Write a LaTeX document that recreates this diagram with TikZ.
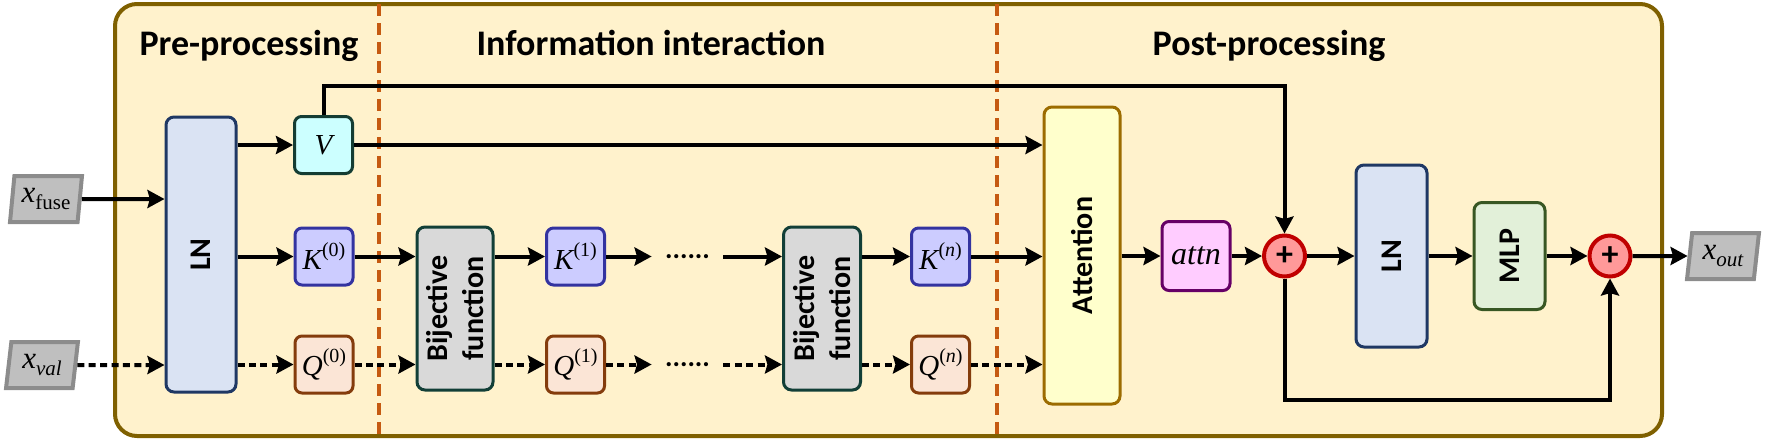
\documentclass[tikz,border=0pt]{standalone}
\usepackage{fontspec}
\setsansfont{Carlito}
\newfontfamily\tms{Liberation Serif}
\usetikzlibrary{arrows.meta,shapes.geometric}
\definecolor{outerfill}{HTML}{FFF2CC}
\definecolor{outerdraw}{HTML}{7F6000}
\definecolor{dashc}{HTML}{C55A11}
\definecolor{lnfill}{HTML}{DAE3F3}
\definecolor{lndraw}{HTML}{1F3864}
\definecolor{vfill}{HTML}{CCFFFF}
\definecolor{vdraw}{HTML}{143D33}
\definecolor{kfill}{HTML}{CCCCFF}
\definecolor{kdraw}{HTML}{3333A0}
\definecolor{qfill}{HTML}{FBE5D6}
\definecolor{qdraw}{HTML}{843C0C}
\definecolor{bfill}{HTML}{D9D9D9}
\definecolor{bdraw}{HTML}{123F37}
\definecolor{afill}{HTML}{FFFFCC}
\definecolor{adraw}{HTML}{9C6C00}
\definecolor{attnfill}{HTML}{FFCCFF}
\definecolor{attndraw}{HTML}{660066}
\definecolor{pfill}{HTML}{FF9999}
\definecolor{pdraw}{HTML}{C00000}
\definecolor{mlpfill}{HTML}{E2F0D9}
\definecolor{mlpdraw}{HTML}{385723}
\definecolor{xfill}{HTML}{BFBFBF}
\definecolor{xdraw}{HTML}{8C8C8C}
\newcommand{\tmi}[1]{{\tms\mdseries\itshape\fontsize{14.5pt}{14.5pt}\selectfont #1}}
\newcommand{\supr}[1]{\raisebox{6.5pt}{\tms\mdseries\upshape\fontsize{10pt}{10pt}\selectfont #1}}
\newcommand{\xlab}[1]{{\tms\mdseries\fontsize{15.5pt}{15.5pt}\selectfont\textit{x}\raisebox{-3.5pt}{\fontsize{10.5pt}{10.5pt}\selectfont #1}}}
\begin{document}
\begin{tikzpicture}[x=0.5pt,y=-0.5pt,
  box/.style={draw, rounded corners=4pt, line width=1.5pt, inner sep=0pt, align=center},
  sq/.style={box, rounded corners=3.5pt, minimum width=29pt, minimum height=28.5pt},
  vlab/.style={rotate=90, align=center, inner sep=0pt, font=\sffamily\bfseries\fontsize{15pt}{18pt}\selectfont},
  title/.style={anchor=base, font=\sffamily\bfseries\fontsize{18pt}{20pt}\selectfont},
  arr/.style={line width=2pt, -{Stealth[length=8.5pt,width=9pt,inset=1.2pt]}},
  darr/.style={arr, dash pattern=on 3.5pt off 2.2pt},
  xbox/.style={trapezium, trapezium left angle=81, trapezium right angle=99, trapezium stretches=true,
    fill=xfill, draw=xdraw, line width=2pt, minimum height=23pt, minimum width=36pt, inner sep=0pt},
  plus/.style={circle, fill=pfill, draw=pdraw, line width=2pt, minimum size=20.5pt, inner sep=0pt,
    font=\sffamily\bfseries\fontsize{17pt}{17pt}\selectfont},
  dotsn/.style={inner sep=0pt, minimum width=35.5pt, font=\sffamily\bfseries\fontsize{14pt}{14pt}\selectfont},
  sep/.style={dashc, line width=1.7pt, dash pattern=on 6pt off 3.5pt}
]
\useasboundingbox (0,0) rectangle (1765,440);
% outer panel
\draw[fill=outerfill, draw=outerdraw, line width=2pt, rounded corners=11pt] (115,4) rectangle (1662,436);
\draw[sep] (379,4) -- (379,436);
\draw[sep] (997,4) -- (997,436);
% titles
\node[title] (t1) at (249,55) {Pre-processing};
\node[title] (t2) at (651,55) {Information interaction};
\node[title] (t3) at (1269,55) {Post-processing};
% inputs
\node[xbox] (xf) at (46,199) {\xlab{fuse}};
\node[xbox] (xv) at (42,365) {\xlab{\textit{val}}};
% pre-processing
\node[box, fill=lnfill, draw=lndraw, minimum width=35pt, minimum height=137.5pt,
  label={[vlab]center:LN}] (ln1) at (201,254.5) {};
\node[sq, fill=vfill, draw=vdraw] (v) at (323.5,145) {\tmi{V}};
\node[sq, fill=kfill, draw=kdraw] (k0) at (324,256.5) {\tmi{K}\supr{(0)}};
\node[sq, fill=qfill, draw=qdraw] (q0) at (324,364.5) {\tmi{Q}\supr{(0)}};
% interaction
\node[box, fill=bfill, draw=bdraw, minimum width=38pt, minimum height=81.5pt,
  label={[vlab]center:Bijective\\function}] (b1) at (455,308.5) {};
\node[sq, fill=kfill, draw=kdraw] (k1) at (575.5,256.5) {\tmi{K}\supr{(1)}};
\node[sq, fill=qfill, draw=qdraw] (q1) at (575.5,364.5) {\tmi{Q}\supr{(1)}};
\node[dotsn] (dk) at (687.5,256.5) {......};
\node[dotsn] (dq) at (687.5,364.5) {......};
\node[box, fill=bfill, draw=bdraw, minimum width=38.5pt, minimum height=81.5pt,
  label={[vlab]center:Bijective\\function}] (b2) at (822,308.5) {};
\node[sq, fill=kfill, draw=kdraw] (kn) at (940.5,256.5) {\tmi{K}\supr{(\textit{n})}};
\node[sq, fill=qfill, draw=qdraw] (qn) at (940.5,364.5) {\tmi{Q}\supr{(\textit{n})}};
% post-processing
\node[box, fill=afill, draw=adraw, minimum width=38pt, minimum height=148.5pt,
  label={[vlab]center:Attention}] (att) at (1082,255.5) {};
\node[box, rounded corners=3.5pt, fill=attnfill, draw=attndraw, minimum width=34pt, minimum height=34.5pt] (attn) at (1196,256) {{\tms\mdseries\itshape\fontsize{16pt}{16pt}\selectfont attn}};
\node[plus] (p1) at (1284.5,256) {+};
\node[box, fill=lnfill, draw=lndraw, minimum width=35.5pt, minimum height=91pt,
  label={[vlab]center:LN}] (ln2) at (1391.5,256) {};
\node[box, fill=mlpfill, draw=mlpdraw, minimum width=35.5pt, minimum height=53.5pt,
  label={[vlab]center:MLP}] (mlp) at (1509.5,256) {};
\node[plus] (p2) at (1610,256) {+};
\node[xbox] (xo) at (1723,256) {\xlab{\textit{out}}};
\coordinate (topc) at (0,86);
\coordinate (botc) at (0,400);
% connectors
\draw[arr] (xf) -- (xf -| ln1.west);
\draw[darr] (xv) -- (xv -| ln1.west);
\draw[arr] (ln1.east |- v) -- (v);
\draw[arr] (ln1.east |- k0) -- (k0);
\draw[darr] (ln1.east |- q0) -- (q0);
\draw[arr] (k0) -- (k0 -| b1.west);
\draw[darr] (q0) -- (q0 -| b1.west);
\draw[arr] (b1.east |- k1) -- (k1);
\draw[darr] (b1.east |- q1) -- (q1);
\draw[arr] (k1) -- (dk);
\draw[darr] (q1) -- (dq);
\draw[arr] (dk) -- (dk -| b2.west);
\draw[darr] (dq) -- (dq -| b2.west);
\draw[arr] (b2.east |- kn) -- (kn);
\draw[darr] (b2.east |- qn) -- (qn);
\draw[arr] (v) -- (v -| att.west);
\draw[arr] (kn) -- (kn -| att.west);
\draw[darr] (qn) -- (qn -| att.west);
\draw[arr] (att.east |- attn) -- (attn);
\draw[arr] (attn) -- (p1);
\draw[arr] (p1) -- (ln2);
\draw[arr] (ln2) -- (mlp);
\draw[arr] (mlp) -- (p2);
\draw[arr] (p2) -- (xo);
\draw[arr] (v.north) -- (v.north |- topc) -- (p1.north |- topc) -- (p1.north);
\draw[arr] (p1.south) -- (p1.south |- botc) -- (p2.south |- botc) -- (p2.south);
\end{tikzpicture}
\end{document}
